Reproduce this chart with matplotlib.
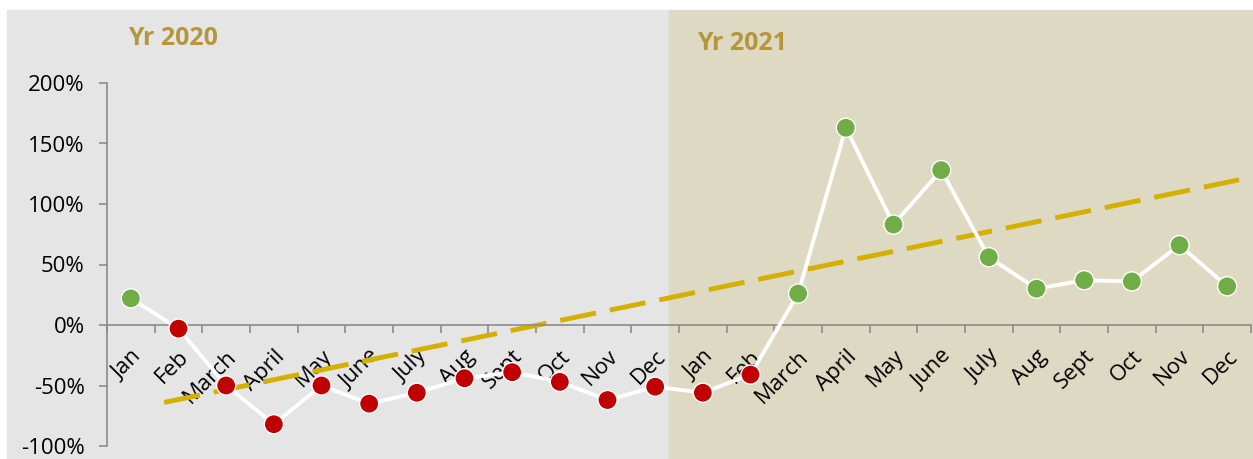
import matplotlib.pyplot as plt
import numpy as np
from matplotlib.patches import Rectangle

# monthly change, Jan 2020 .. Dec 2021 (percent)
months = ["Jan", "Feb", "March", "April", "May", "June", "July", "Aug",
          "Sept", "Oct", "Nov", "Dec"]
vals_2020 = [22, -3, -50, -82, -50, -65, -56, -44, -39, -47, -62, -51]
vals_2021 = [-56, -41, 26, 163, 83, 128, 56, 30, 37, 36, 66, 32]

# dashed trend line end points (x in month index, y in percent)
trend_x = [0.7, 23.25]
trend_y = [-64, 120]

yticks = [-100, -50, 0, 50, 100, 150, 200]


def main():
    plt.rcParams['font.family'] = ['Open Sans', 'DejaVu Sans']

    labels = months + months
    values = np.array(vals_2020 + vals_2021)
    x = np.arange(len(values))

    fig = plt.figure(figsize=(12.53, 4.59), dpi=100)
    fig.patch.set_facecolor('white')

    # background panels for the two years
    fig.patches.append(Rectangle((7 / 1253, 0), (669 - 7) / 1253, 449 / 459,
                                 transform=fig.transFigure, color='#E5E5E5', zorder=-10))
    fig.patches.append(Rectangle((669 / 1253, 0), (1253 - 669) / 1253, 449 / 459,
                                 transform=fig.transFigure, color='#DDD9C3', zorder=-10))

    fig.text(128 / 1253, 1 - 45 / 459, "Yr 2020", color='#B5963A', fontsize=18,
             fontweight='bold')
    fig.text(697 / 1253, 1 - 50 / 459, "Yr 2021", color='#B5963A', fontsize=18,
             fontweight='bold')

    ax = fig.add_axes([107 / 1253, 13 / 459, (1251 - 107) / 1253, (446 - 83) / 459])
    ax.patch.set_alpha(0)

    # spines first: set_position resets the ticks
    for side in ['top', 'right']:
        ax.spines[side].set_visible(False)
    ax.spines['bottom'].set_position(('data', 0))
    ax.spines['bottom'].set_color('#8C8C8C')
    ax.spines['bottom'].set_linewidth(1.2)
    ax.spines['left'].set_color('#8C8C8C')
    ax.spines['left'].set_linewidth(1.2)

    # trend line
    ax.plot(trend_x, trend_y, color='#D4B000', lw=3.5, dashes=(7.5, 2.9),
            solid_capstyle='butt', zorder=2)

    # data line and markers
    ax.plot(x, values, color='white', lw=2.8, zorder=3)
    colors = ['#70AD47' if v >= 0 else '#C00000' for v in values]
    ax.scatter(x, values, s=190, c=colors, edgecolors='white', linewidths=1.0, zorder=4)

    ax.set_xlim(-0.5, len(values) - 0.5)
    ax.set_ylim(-100, 200)

    ax.tick_params(axis='x', which='minor', length=0, pad=15)
    ax.tick_params(axis='x', which='major', length=6, color='#8C8C8C', width=1.2)
    ax.tick_params(axis='y', length=6, color='#8C8C8C', width=1.2, pad=10)

    ax.set_yticks(yticks)
    ax.set_yticklabels([f"{t}%" for t in yticks], fontsize=16)

    ax.set_xticks(np.arange(-0.5, len(values)), minor=False)
    ax.set_xticklabels([])
    ax.set_xticks(x, minor=True)
    ax.set_xticklabels(labels, minor=True, fontsize=16, rotation=45, ha='right',
                       rotation_mode='anchor')

    plt.savefig("out.png", dpi=100, facecolor=fig.get_facecolor())


if __name__ == '__main__':
    main()
